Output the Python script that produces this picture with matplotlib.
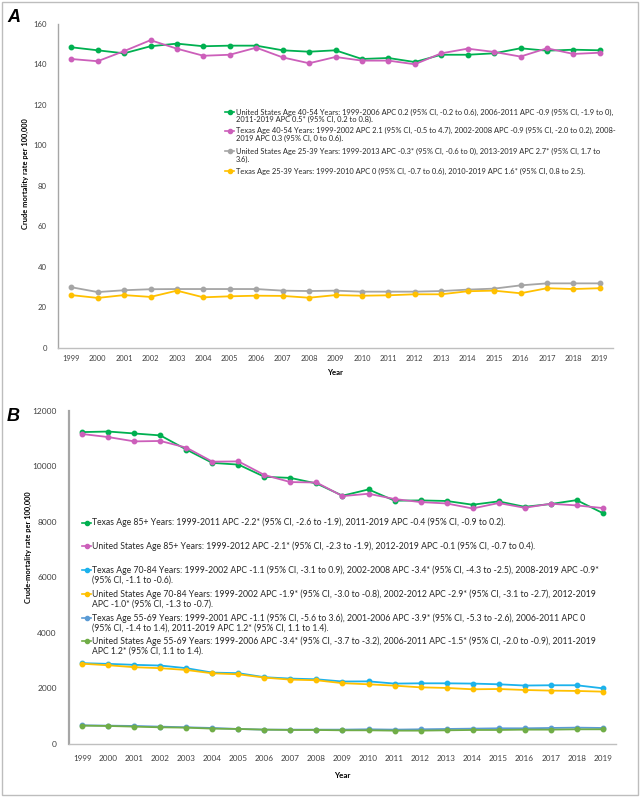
import matplotlib
matplotlib.use("Agg")
import matplotlib.pyplot as plt
from matplotlib.lines import Line2D
from matplotlib.patches import Rectangle

years = [str(y) for y in range(1999, 2020)]

# Panel A values (crude mortality per 100,000)
us_40_54 = [148.5, 147.0, 145.5, 149.0, 150.3, 149.0, 149.3, 149.3, 147.0, 146.3, 147.0,
            142.7, 143.2, 141.2, 144.8, 144.8, 145.5, 148.0, 146.8, 147.3, 147.0]
tx_40_54 = [142.7, 141.6, 146.6, 152.0, 147.8, 144.3, 144.8, 148.3, 143.5, 140.6, 143.7,
            141.9, 141.9, 140.1, 145.5, 147.8, 146.2, 143.9, 148.0, 145.2, 145.8]
us_25_39 = [29.9, 27.5, 28.4, 28.9, 29.0, 29.0, 29.0, 29.0, 28.2, 28.0, 28.2,
            27.7, 27.7, 27.7, 28.0, 28.7, 29.2, 30.8, 31.8, 31.8, 31.8]
tx_25_39 = [26.0, 24.6, 26.0, 25.1, 28.2, 24.9, 25.4, 25.7, 25.6, 24.7, 26.0,
            25.7, 25.9, 26.4, 26.4, 27.9, 28.2, 26.9, 29.4, 29.0, 29.4]

# Panel B values
tx_85 = [11230, 11250, 11180, 11110, 10600, 10120, 10060, 9620, 9580, 9380, 8940,
         9165, 8760, 8770, 8750, 8615, 8735, 8540, 8640, 8780, 8315]
us_85 = [11160, 11050, 10895, 10910, 10670, 10165, 10175, 9685, 9430, 9415, 8925,
         9010, 8820, 8710, 8660, 8480, 8675, 8505, 8650, 8590, 8495]
tx_70_84 = [2910, 2885, 2850, 2825, 2730, 2570, 2550, 2405, 2355, 2330, 2250,
            2255, 2175, 2185, 2185, 2175, 2150, 2105, 2115, 2115, 2005]
us_70_84 = [2890, 2835, 2765, 2730, 2665, 2545, 2510, 2390, 2318, 2295, 2190,
            2150, 2100, 2040, 2018, 1970, 1980, 1945, 1922, 1910, 1885]
tx_55_69 = [673, 661, 649, 625, 601, 577, 541, 517, 517, 517, 517,
            529, 517, 529, 541, 553, 565, 565, 577, 589, 577]
us_55_69 = [661, 649, 625, 601, 589, 553, 541, 517, 505, 505, 493,
            493, 481, 481, 493, 505, 505, 517, 517, 529, 529]

labels_a = [
    ["United States Age 40-54 Years: 1999-2006 APC 0.2 (95% CI, -0.2 to 0.6), 2006-2011 APC -0.9 (95% CI, -1.9 to 0),",
     "2011-2019 APC 0.5* (95% CI, 0.2 to 0.8)."],
    ["Texas Age 40-54 Years: 1999-2002 APC 2.1 (95% CI, -0.5 to 4.7), 2002-2008 APC -0.9 (95% CI, -2.0 to 0.2), 2008-",
     "2019 APC 0.3 (95% CI, 0 to 0.6)."],
    ["United States Age 25-39 Years: 1999-2013 APC -0.3* (95% CI, -0.6 to 0), 2013-2019 APC 2.7* (95% CI, 1.7 to",
     "3.6)."],
    ["Texas Age 25-39 Years: 1999-2010 APC 0 (95% CI, -0.7 to 0.6), 2010-2019 APC 1.6* (95% CI, 0.8 to 2.5)."],
]
labels_b = [
    ["Texas Age 85+ Years: 1999-2011 APC -2.2* (95% CI, -2.6 to -1.9), 2011-2019 APC -0.4 (95% CI, -0.9 to 0.2)."],
    ["United States Age 85+ Years: 1999-2012 APC -2.1* (95% CI, -2.3 to -1.9), 2012-2019 APC -0.1 (95% CI, -0.7 to 0.4)."],
    ["Texas Age 70-84 Years: 1999-2002 APC -1.1 (95% CI, -3.1 to 0.9), 2002-2008 APC -3.4* (95% CI, -4.3 to -2.5), 2008-2019 APC -0.9*",
     "(95% CI, -1.1 to -0.6)."],
    ["United States Age 70-84 Years: 1999-2002 APC -1.9* (95% CI, -3.0 to -0.8), 2002-2012 APC -2.9* (95% CI, -3.1 to -2.7), 2012-2019",
     "APC -1.0* (95% CI, -1.3 to -0.7)."],
    ["Texas Age 55-69 Years: 1999-2001 APC -1.1 (95% CI, -5.6 to 3.6), 2001-2006 APC -3.9* (95% CI, -5.3 to -2.6), 2006-2011 APC 0",
     "(95% CI, -1.4 to 1.4), 2011-2019 APC 1.2* (95% CI, 1.1 to 1.4)."],
    ["United States Age 55-69 Years: 1999-2006 APC -3.4* (95% CI, -3.7 to -3.2), 2006-2011 APC -1.5* (95% CI, -2.0 to -0.9), 2011-2019",
     "APC 1.2* (95% CI, 1.1 to 1.4)."],
]

GREEN = "#00B050"
PINK = "#CC5FBA"
GRAY = "#A5A5A5"
YELLOW = "#FFC000"
LBLUE = "#1CB2EC"
BLUE = "#5B9BD5"
GREEN2 = "#70AD47"

FONT = ["Lato", "DejaVu Sans"]
plt.rcParams["font.family"] = FONT

W, H = 641, 798
fig = plt.figure(figsize=(W / 100, H / 100), dpi=100)

def fx(px):
    return px / W

def fy(py):
    return 1 - py / H

# outer frame
fig.add_artist(Rectangle((fx(2), fy(795)), fx(636), 793 / H, transform=fig.transFigure,
                         fill=False, edgecolor="#BDBDBD", linewidth=1.0))

def style_axes(ax, spine_w):
    for s in ["top", "right"]:
        ax.spines[s].set_visible(False)
    ax.spines["left"].set_color("#A6A6A6")
    ax.spines["bottom"].set_color("#BFBFBF")
    ax.spines["left"].set_linewidth(spine_w)
    ax.spines["bottom"].set_linewidth(1.0)
    ax.tick_params(length=0)

lw = 1.3
ms = 3.2

# ---------- Panel A ----------
axA = fig.add_axes([fx(58), fy(347.7), fx(555), 323.7 / H])
seriesA = [(us_40_54, GREEN), (tx_40_54, PINK), (us_25_39, GRAY), (tx_25_39, YELLOW)]
for vals, c in seriesA:
    axA.plot(years, vals, color=c, lw=lw, marker="o", ms=ms, mec=c, mfc=c)
axA.set_xlim(-0.5, 20.5)
axA.set_ylim(0, 160)
axA.set_yticks(range(0, 161, 20))
style_axes(axA, 1.0)
axA.tick_params(axis="y", labelsize=5.6, pad=8, colors="#404040")
axA.tick_params(axis="x", labelsize=5.4, pad=5, colors="#404040")
axA.set_ylabel("Crude mortality rate per 100,000", fontsize=5.4, fontweight="bold")
axA.yaxis.set_label_coords(-0.052, 0.537)
axA.set_xlabel("Year", fontsize=5.6, fontweight="bold", labelpad=5)

# ---------- Panel B ----------
axB = fig.add_axes([fx(69.3), fy(744), fx(546.4), 333.3 / H])
seriesB = [(tx_85, GREEN), (us_85, PINK), (tx_70_84, LBLUE), (us_70_84, YELLOW),
           (tx_55_69, BLUE), (us_55_69, GREEN2)]
for vals, c in seriesB:
    axB.plot(years, vals, color=c, lw=lw, marker="o", ms=ms, mec=c, mfc=c)
axB.set_xlim(-0.5, 20.5)
axB.set_ylim(0, 12000)
axB.set_yticks(range(0, 12001, 2000))
style_axes(axB, 1.6)
axB.tick_params(axis="y", labelsize=6.0, pad=9, colors="#404040")
axB.tick_params(axis="x", labelsize=5.9, pad=8, colors="#404040")
axB.set_ylabel("Crude-mortality rate per 100,000", fontsize=5.4, fontweight="bold")
axB.yaxis.set_label_coords(-0.068, 0.59)
axB.set_xlabel("Year", fontsize=5.8, fontweight="bold", labelpad=7)

# Panel letters
fig.text(fx(7), fy(22), "A", fontsize=13, fontweight="bold", fontstyle="italic",
         family=["Liberation Sans", "DejaVu Sans"], va="baseline")
fig.text(fx(7), fy(421), "B", fontsize=13, fontweight="bold", fontstyle="italic",
         family=["Liberation Sans", "DejaVu Sans"], va="baseline")

# ---------- manual legends ----------
renderer = fig.canvas.get_renderer()

def fit_size(s, target, base=6.0):
    t = fig.text(0, 0, s, fontsize=base)
    w = t.get_window_extent(renderer).width
    t.remove()
    return base * target / w

def draw_legend(entries, colors, ys, x_h0, x_h1, x_t, size):
    for lines, c, yl in zip(entries, colors, ys):
        y0 = yl[0]
        fig.add_artist(Line2D([fx(x_h0), fx(x_h1)], [fy(y0), fy(y0)], transform=fig.transFigure,
                              color=c, lw=1.2))
        fig.add_artist(Line2D([fx((x_h0 + x_h1) / 2)], [fy(y0)], transform=fig.transFigure,
                              color=c, marker="o", ms=3, mec=c, mfc=c, lw=0))
        for line, yy in zip(lines, yl):
            fig.text(fx(x_t), fy(yy), line, fontsize=size, va="center", ha="left", color="#262626")

sizeA = fit_size(labels_a[0][0], 380)
ysA = [[112.3, 119.8], [130.7, 138.0], [151.0, 159.0], [171.3]]
draw_legend(labels_a, [c for _, c in seriesA], ysA, 225, 234, 235.5, sizeA)

sizeB = fit_size(labels_b[2][0], 507)
ysB = [[522.7], [546.0], [570.0, 580.0], [594.0, 604.0], [618.0, 628.0], [641.0, 651.0]]
draw_legend(labels_b, [c for _, c in seriesB], ysB, 82, 91, 92, sizeB)

fig.savefig("out.png", dpi=100)
